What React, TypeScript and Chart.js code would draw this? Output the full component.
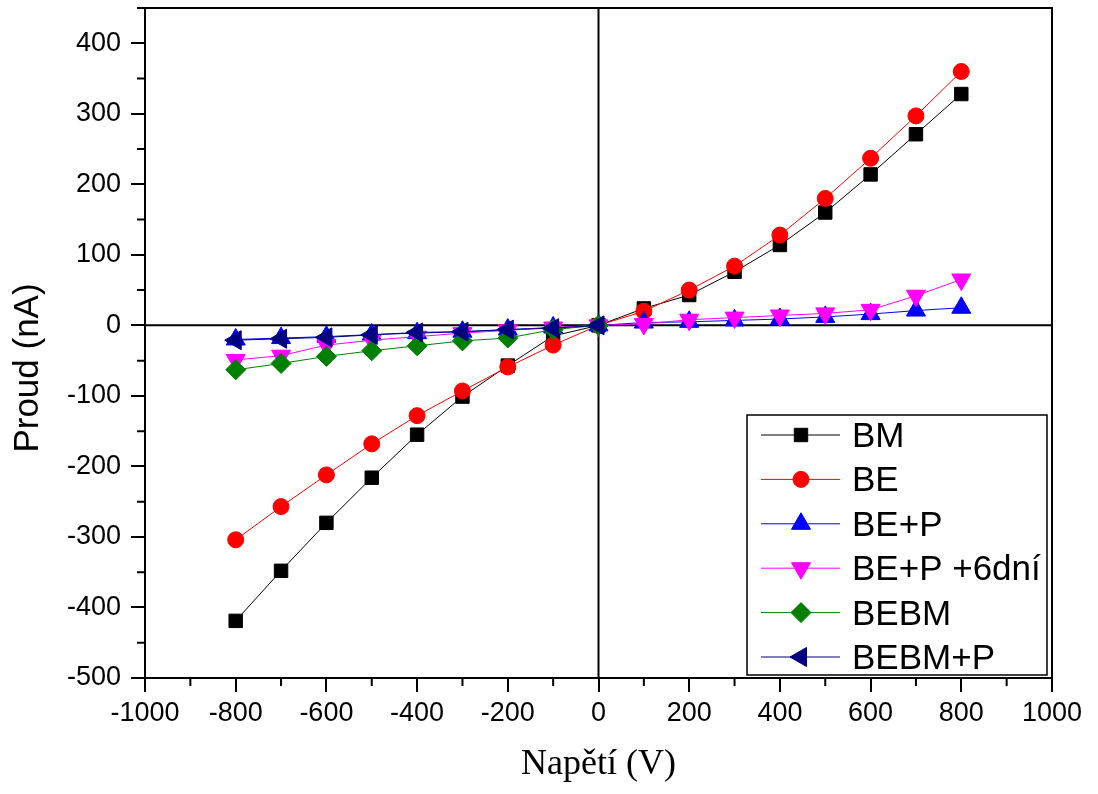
import React, { useEffect, useRef } from 'react';
import { Chart, registerables } from 'chart.js';
import { drawPoint } from 'chart.js/helpers';

Chart.register(...registerables);

const voltageAll = [-800, -700, -600, -500, -400, -300, -200, -100, 0, 100, 200, 300, 400, 500, 600, 700, 800];
const voltageNeg = [-800, -700, -600, -500, -400, -300, -200, -100, 0];

const bmCurrent = [-419, -348, -280, -216, -155, -101, -57, -15, 0, 24, 43, 76, 114, 160, 214, 271, 328];
const beCurrent = [-304, -257, -212, -168, -128, -93, -59, -28, 0, 20, 50, 84, 128, 180, 237, 297, 360];
const bepCurrent = [-20, -18, -16, -13, -11, -9, -6, -3, 0, 4, 5, 7, 9, 12, 16, 21, 25];
const bep6Current = [-49, -43, -28, -21, -16, -11, -7, -3, 0, 2, 8, 11, 14, 17, 22, 42, 65];
const bebmCurrent = [-63, -54, -44, -36, -29, -22, -18, -6, 0];
const bebmpCurrent = [-21, -19, -17, -13.5, -10, -9, -6, -4, 0];

const seriesLabels = ['BM', 'BE', 'BE+P', 'BE+P +6dní', 'BEBM', 'BEBM+P'];
const seriesColors = ['#000000', '#ff0000', '#0000ff', '#ff00ff', '#008000', '#000080'];
const seriesStyles = ['rect', 'circle', 'triangle', 'triangle', 'rectRot', 'triangle'];
const seriesRotation = [0, 0, 0, 180, 0, 270];
const seriesRadius = [9.5, 8, 11, 11, 10, 11];

const xTitle = 'Napětí (V)';
const yTitle = 'Proud (nA)';

const SANS = "'Liberation Sans', Arial, sans-serif";
const SERIF = "'Liberation Serif', 'Times New Roman', serif";

function toPoints(xs: number[], ys: number[]) {
  return xs.map((x, i) => ({ x, y: ys[i] }));
}

const framePlugin = {
  id: 'frame',
  beforeDatasetsDraw(chart: any) {
    const { ctx, chartArea: a, scales } = chart;
    const x0 = scales.x.getPixelForValue(0);
    const y0 = scales.y.getPixelForValue(0);
    ctx.save();
    ctx.strokeStyle = '#000';
    ctx.lineWidth = 2;
    ctx.beginPath();
    ctx.moveTo(x0, a.top);
    ctx.lineTo(x0, a.bottom);
    ctx.moveTo(a.left, y0);
    ctx.lineTo(a.right, y0);
    ctx.stroke();
    ctx.restore();
  },
  afterDraw(chart: any) {
    const { ctx, chartArea: a, scales } = chart;
    ctx.save();
    ctx.strokeStyle = '#000';
    ctx.lineWidth = 2;
    // top and right borders
    ctx.beginPath();
    ctx.moveTo(a.left, a.top);
    ctx.lineTo(a.right, a.top);
    ctx.lineTo(a.right, a.bottom);
    ctx.stroke();
    // minor ticks
    ctx.beginPath();
    for (let v = -450; v <= 450; v += 100) {
      const py = scales.y.getPixelForValue(v);
      if (py < a.top - 0.5 || py > a.bottom + 0.5) continue;
      ctx.moveTo(a.left - 8, py);
      ctx.lineTo(a.left, py);
    }
    for (let v = -900; v <= 900; v += 200) {
      const px = scales.x.getPixelForValue(v);
      ctx.moveTo(px, a.bottom);
      ctx.lineTo(px, a.bottom + 8);
    }
    ctx.stroke();

    // axis titles
    ctx.fillStyle = '#000';
    ctx.font = `36px ${SERIF}`;
    ctx.textAlign = 'center';
    ctx.textBaseline = 'alphabetic';
    ctx.fillText(xTitle, (a.left + a.right) / 2, 774);
    ctx.save();
    ctx.translate(38, 368);
    ctx.rotate(-Math.PI / 2);
    ctx.font = `35px ${SANS}`;
    ctx.fillText(yTitle, 0, 0);
    ctx.restore();

    // legend
    const lx1 = 747;
    const ly1 = 415;
    const lx2 = a.right - 5;
    const ly2 = a.bottom - 3;
    ctx.fillStyle = '#fff';
    ctx.fillRect(lx1, ly1, lx2 - lx1, ly2 - ly1);
    ctx.lineWidth = 1.5;
    ctx.strokeStyle = '#000';
    ctx.strokeRect(lx1, ly1, lx2 - lx1, ly2 - ly1);
    chart.data.datasets.forEach((ds: any, i: number) => {
      const cy = 435 + i * 44.4;
      ctx.strokeStyle = ds.borderColor;
      ctx.lineWidth = 1;
      ctx.beginPath();
      ctx.moveTo(761, cy);
      ctx.lineTo(840, cy);
      ctx.stroke();
      ctx.fillStyle = ds.pointBackgroundColor;
      ctx.strokeStyle = ds.pointBorderColor;
      drawPoint(ctx, { pointStyle: ds.pointStyle, rotation: ds.pointRotation, radius: ds.pointRadius, borderWidth: 1 }, 801, cy);
      ctx.fillStyle = '#000';
      ctx.font = `35px ${SANS}`;
      ctx.textAlign = 'left';
      ctx.textBaseline = 'alphabetic';
      ctx.fillText(ds.label, 852, cy + 12);
    });
    ctx.restore();
  },
};

export default function App() {
  const ref = useRef<HTMLCanvasElement | null>(null);

  useEffect(() => {
    if (!ref.current) return;
    const dataSets = [
      toPoints(voltageAll, bmCurrent),
      toPoints(voltageAll, beCurrent),
      toPoints(voltageAll, bepCurrent),
      toPoints(voltageAll, bep6Current),
      toPoints(voltageNeg, bebmCurrent),
      toPoints(voltageNeg, bebmpCurrent),
    ];
    const chart = new Chart(ref.current, {
      type: 'scatter',
      data: {
        datasets: dataSets.map((d, i) => ({
          label: seriesLabels[i],
          data: d,
          showLine: true,
          borderColor: seriesColors[i],
          borderWidth: 1,
          pointBackgroundColor: seriesColors[i],
          pointBorderColor: seriesColors[i],
          pointBorderWidth: 1,
          pointStyle: seriesStyles[i] as any,
          pointRotation: seriesRotation[i],
          pointRadius: seriesRadius[i],
          pointHoverRadius: seriesRadius[i],
          order: 6 - i,
        })),
      },
      options: {
        responsive: false,
        animation: false,
        events: [],
        layout: { autoPadding: false, padding: { top: 8, right: 46, left: 0, bottom: 0 } },
        plugins: {
          legend: { display: false },
          tooltip: { enabled: false },
          title: { display: false },
        },
        scales: {
          x: {
            type: 'linear',
            min: -1000,
            max: 1000,
            afterFit(scale: any) {
              scale.height = 116;
              scale.paddingLeft = 0;
              scale.paddingRight = 0;
            },
            ticks: {
              stepSize: 200,
              color: '#000',
              font: { family: SANS, size: 27 },
              padding: 5,
              maxRotation: 0,
              autoSkip: false,
              callback: (v: any) => String(v),
            },
            grid: {
              drawOnChartArea: false,
              drawTicks: true,
              tickLength: 14,
              color: '#000',
              lineWidth: 2,
            },
            border: { display: true, color: '#000', width: 2 },
          },
          y: {
            type: 'linear',
            min: -500,
            max: 450,
            afterFit(scale: any) {
              scale.width = 145;
              scale.paddingTop = 0;
              scale.paddingBottom = 0;
            },
            ticks: {
              stepSize: 100,
              includeBounds: false,
              color: '#000',
              font: { family: SANS, size: 27 },
              padding: 10,
              autoSkip: false,
              callback: (v: any) => String(v),
            },
            grid: {
              drawOnChartArea: false,
              drawTicks: true,
              tickLength: 14,
              color: '#000',
              lineWidth: 2,
            },
            border: { display: true, color: '#000', width: 2 },
          },
        },
      },
      plugins: [framePlugin],
    });
    return () => chart.destroy();
  }, []);

  return (
    <canvas
      ref={ref}
      width={1098}
      height={794}
      style={{ position: 'fixed', left: 0, top: 0, display: 'block', width: 1098, height: 794, background: '#fff' }}
    />
  );
}
